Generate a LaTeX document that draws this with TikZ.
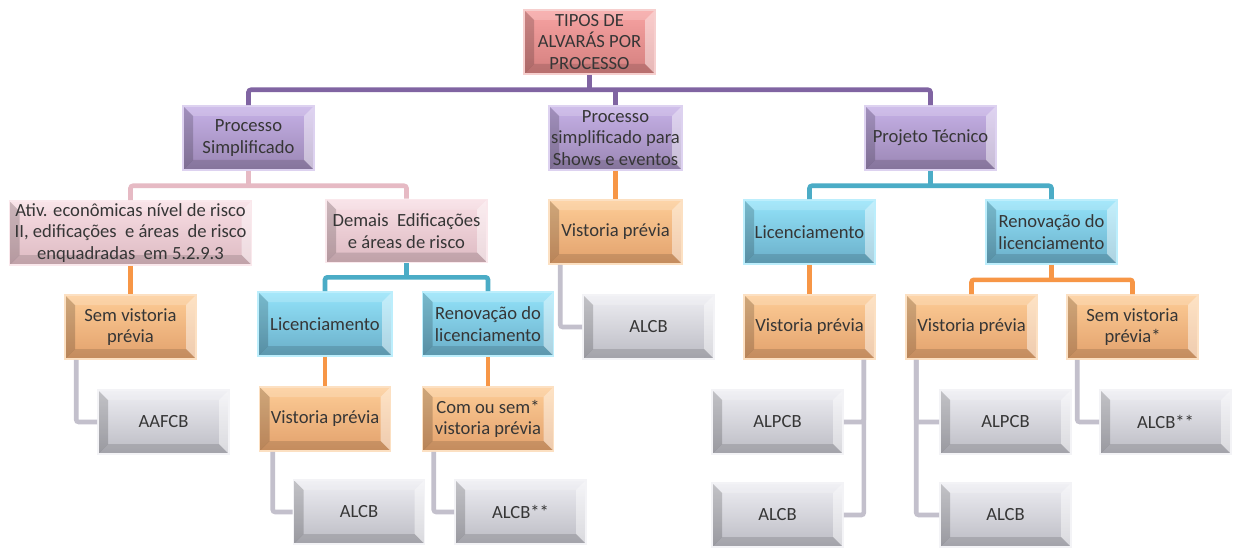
\documentclass[tikz,border=0pt]{standalone}
\usepackage{fontspec}
\setmainfont{Carlito}
\usetikzlibrary{calc}
\definecolor{txtgrey}{HTML}{363636}
\definecolor{rootlt}{HTML}{F7A3A2}
\definecolor{rootdk}{HTML}{D37F7E}
\definecolor{rootrim}{HTML}{F6CFCE}
\definecolor{purplt}{HTML}{C6B1E7}
\definecolor{purpdk}{HTML}{9A86B3}
\definecolor{purprim}{HTML}{DDD2F0}
\definecolor{pinklt}{HTML}{F8DEE4}
\definecolor{pinkdk}{HTML}{DDBAC2}
\definecolor{pinkrim}{HTML}{FAE8EC}
\definecolor{bluelt}{HTML}{93E3FA}
\definecolor{bluedk}{HTML}{6AAEC8}
\definecolor{bluerim}{HTML}{BCEEFC}
\definecolor{orangelt}{HTML}{FDCC96}
\definecolor{orangedk}{HTML}{E2A16C}
\definecolor{orangerim}{HTML}{FCE0C2}
\definecolor{greylt}{HTML}{EEEEF3}
\definecolor{greydk}{HTML}{BBBBC3}
\definecolor{greyrim}{HTML}{F3F3F6}
\definecolor{purpline}{HTML}{8064A2}
\definecolor{pinkline}{HTML}{E6BAC4}
\definecolor{blueline}{HTML}{4BACC6}
\definecolor{orangeline}{HTML}{F79646}
\definecolor{greyline}{HTML}{C3C0CC}
\tikzset{
	bevelbox/.style n args={3}{
		rectangle, minimum width=131pt, minimum height=64pt, inner sep=1pt,
		align=center, text=txtgrey, font=\fontsize{18.6}{21.5}\selectfont,
		top color=#1, bottom color=#2, draw=#3, line width=1.6pt,
		path picture={
			\path (path picture bounding box.south west) coordinate (bsw)
			(path picture bounding box.north west) coordinate (bnw)
			(path picture bounding box.north east) coordinate (bne)
			(path picture bounding box.south east) coordinate (bse);
			\fill[black,opacity=.18] (bsw) -- (bnw) -- ([shift={(10pt,-10pt)}]bnw) -- ([shift={(10pt,10pt)}]bsw) -- cycle;
			\fill[white,opacity=.18] (bnw) -- (bne) -- ([shift={(-10pt,-10pt)}]bne) -- ([shift={(10pt,-10pt)}]bnw) -- cycle;
			\fill[white,opacity=.45] (bne) -- (bse) -- ([shift={(-10pt,10pt)}]bse) -- ([shift={(-10pt,-10pt)}]bne) -- cycle;
			\fill[black,opacity=.13] (bsw) -- (bse) -- ([shift={(-10pt,10pt)}]bse) -- ([shift={(10pt,10pt)}]bsw) -- cycle;
		}
	},
	rootbox/.style={bevelbox={rootlt}{rootdk}{rootrim}},
	purpbox/.style={bevelbox={purplt}{purpdk}{purprim}},
	pinkbox/.style={bevelbox={pinklt}{pinkdk}{pinkrim}},
	bluebox/.style={bevelbox={bluelt}{bluedk}{bluerim}},
	orangebox/.style={bevelbox={orangelt}{orangedk}{orangerim}},
	greybox/.style={bevelbox={greylt}{greydk}{greyrim}},
	link/.style={line width=4.6pt, rounded corners=2.5pt},
	purplink/.style={link, purpline},
	pinklink/.style={link, pinkline},
	bluelink/.style={link, blueline},
	orangelink/.style={link, orangeline},
	greylink/.style={link, greyline},
}
\begin{document}
\begin{tikzpicture}[x=1pt,y=-1pt]
		\useasboundingbox[fill=white] (0,0) rectangle (1233,548);
		\node[rootbox] (root) at (589.5,42) {TIPOS DE\\ALVARÁS POR\\PROCESSO};
		\node[purpbox] (simp) at (248.5,138) {Processo\\Simplificado};
		\node[purpbox,minimum width=133pt] (shows) at (615.5,138) {Processo\\simplificado para\\Shows e eventos};
		\node[purpbox] (tec) at (930.5,138) {Projeto Técnico};
		\node[pinkbox,minimum width=242pt] (ativ) at (130.5,233) {Ativ. econômicas nível de risco\\II, edificações~ e áreas~ de risco\\enquadradas~ em 5.2.9.3};
		\node[pinkbox,minimum width=161pt,minimum height=63pt] (demais) at (406.5,231) {Demais~ Edificações\\e áreas de risco};
		\node[orangebox,minimum width=133pt] (vshows) at (615.5,232) {Vistoria prévia};
		\node[bluebox] (lictec) at (809.5,232) {Licenciamento};
		\node[bluebox] (rentec) at (1051.5,232) {Renovação do\\licenciamento};
		\node[orangebox] (semA) at (130.5,327) {Sem vistoria\\prévia};
		\node[bluebox,minimum width=134pt] (licdem) at (325,324) {Licenciamento};
		\node[bluebox] (rendem) at (488,324) {Renovação do\\licenciamento};
		\node[greybox] (alcbS) at (648.5,327) {ALCB};
		\node[orangebox] (vlic) at (809.5,327) {Vistoria prévia};
		\node[orangebox] (vren) at (971.5,327) {Vistoria prévia};
		\node[orangebox] (semB) at (1132.5,327) {Sem vistoria\\prévia*};
		\node[greybox] (aafcb) at (163.5,422) {AAFCB};
		\node[orangebox] (vdem) at (325,419) {Vistoria prévia};
		\node[orangebox] (comsem) at (488,419) {Com ou sem*\\vistoria prévia};
		\node[greybox] (alpcbA) at (777.5,422) {ALPCB};
		\node[greybox] (alpcbB) at (1005.5,422) {ALPCB};
		\node[greybox] (alcbC) at (1165.5,422) {ALCB**};
		\node[greybox] (alcbA) at (359,512) {ALCB};
		\node[greybox] (alcbB) at (520.5,512) {ALCB**};
		\node[greybox] (alcbD) at (777.5,515) {ALCB};
		\node[greybox] (alcbE) at (1005.5,515) {ALCB};
		\draw[purplink] (simp.north) |- ($(root.south)+(0,15)$) -| (tec.north);
		\draw[purplink] (root.south) -- ++(0,15);
		\draw[purplink] (shows.north) -- ++(0,-15);
		\draw[pinklink] (ativ.north) |- ($(simp.south)+(0,15)$) -| (demais.north);
		\draw[pinklink] (simp.south) -- ++(0,15);
		\draw[bluelink] (lictec.north) |- ($(tec.south)+(0,15)$) -| (rentec.north);
		\draw[bluelink] (tec.south) -- ++(0,15);
		\draw[bluelink] (licdem.north) |- ($(demais.south)+(0,14)$) -| (rendem.north);
		\draw[bluelink] (demais.south) -- ++(0,14);
		\draw[orangelink] (vren.north) |- ($(rentec.south)+(0,15)$) -| (semB.north);
		\draw[orangelink] (rentec.south) -- ++(0,15);
		\draw[orangelink] (ativ.south) -- (semA.north);
		\draw[orangelink] (shows.south) -- (vshows.north);
		\draw[orangelink] (licdem.south) -- (vdem.north);
		\draw[orangelink] (rendem.south) -- (comsem.north);
		\draw[orangelink] (lictec.south) -- (vlic.north);
		\draw[greylink] ([xshift=12pt]semA.south west) |- (aafcb.west);
		\draw[greylink] ([xshift=14pt]vdem.south west) |- (alcbA.west);
		\draw[greylink] ([xshift=12pt]comsem.south west) |- (alcbB.west);
		\draw[greylink] ([xshift=12pt]vshows.south west) |- (alcbS.west);
		\draw[greylink] ([xshift=-12pt]vlic.south east) |- (alpcbA.east);
		\draw[greylink] ([xshift=-12pt]vlic.south east) |- (alcbD.east);
		\draw[greylink] ([xshift=11pt]vren.south west) |- (alpcbB.west);
		\draw[greylink] ([xshift=11pt]vren.south west) |- (alcbE.west);
		\draw[greylink] ([xshift=11pt]semB.south west) |- (alcbC.west);
	\end{tikzpicture}
\end{document}
